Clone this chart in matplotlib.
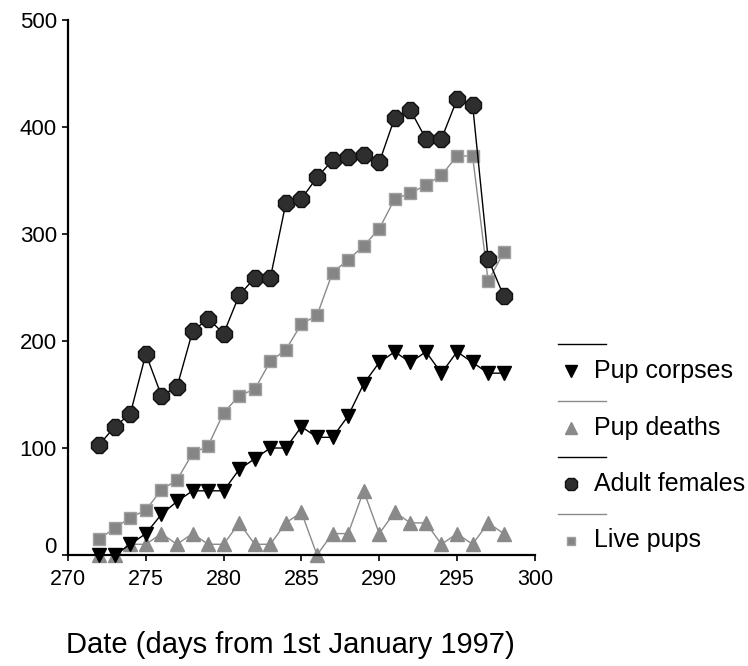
import numpy as np
import matplotlib.pyplot as plt
from matplotlib.lines import Line2D
from matplotlib.transforms import ScaledTranslation

plt.rcParams['font.family'] = ['Liberation Sans', 'DejaVu Sans']

days = list(range(272, 299))

adult_females = [103, 120, 132, 188, 149, 157, 209, 221, 207, 243, 259, 259, 329, 333,
                 353, 369, 372, 374, 367, 409, 416, 389, 389, 426, 421, 277, 242]
live_pups = [15, 25, 35, 42, 61, 70, 95, 102, 133, 149, 155, 181, 192, 216,
             224, 264, 276, 289, 305, 333, 338, 346, 355, 373, 373, 256, 283]
pup_corpses = [0, 0, 10, 20, 38, 50, 60, 60, 60, 80, 90, 100, 100, 120,
               110, 110, 130, 160, 180, 190, 180, 190, 170, 190, 180, 170, 170]
pup_deaths = [0, 0, 10, 10, 20, 10, 20, 10, 10, 30, 10, 10, 30, 40,
              0, 20, 20, 60, 20, 40, 30, 30, 10, 20, 10, 30, 20]

series_names = ['Pup corpses', 'Pup deaths', 'Adult females', 'Live pups']

GRAY = '#8a8a8a'
styles = {
    'Pup corpses': dict(color='black', marker='v', markersize=10, mfc='black', mec='black'),
    'Pup deaths': dict(color=GRAY, marker='^', markersize=10, mfc=GRAY, mec=GRAY),
    'Adult females': dict(color='black', marker='8', markersize=12, mfc='#2e2e2e', mec='#111111'),
    'Live pups': dict(color=GRAY, marker='s', markersize=8, mfc='#858585', mec='#a0a0a0'),
}
values = {
    'Pup corpses': pup_corpses,
    'Pup deaths': pup_deaths,
    'Adult females': adult_females,
    'Live pups': live_pups,
}

fig = plt.figure(figsize=(7.48, 6.66), dpi=100)
ax = fig.add_axes([0.091, 0.1667, 0.624, 0.803])

for name in ['Pup deaths', 'Pup corpses', 'Live pups', 'Adult females']:
    st = styles[name]
    ax.plot(days, values[name], linewidth=1.0, clip_on=False, **st)

ax.set_xlim(270, 300)
ax.set_ylim(0, 500)
ax.set_xticks(np.arange(270, 301, 5))
ax.set_yticks(np.arange(0, 501, 100))
for s in ['top', 'right']:
    ax.spines[s].set_visible(False)
for s in ['left', 'bottom']:
    ax.spines[s].set_linewidth(1.6)
ax.tick_params(axis='both', direction='out', length=4, width=1.2)
ax.tick_params(axis='y', labelsize=16, pad=4)
ax.tick_params(axis='x', labelsize=15.5, pad=6)

# the "0" label sits a little above the axis line
fig.canvas.draw()
zero_label = ax.get_yticklabels()[0]
zero_label.set_transform(zero_label.get_transform() + ScaledTranslation(0, 0.1, fig.dpi_scale_trans))

fig.text(66 / 748, 1 - 653 / 666, 'Date (days from 1st January 1997)', ha='left', va='baseline', fontsize=21)

# SPSS-style legend: a line above each marker
legend_top = 1 - 344 / 666
step = 56.5 / 666
for i, name in enumerate(series_names):
    st = styles[name]
    yl = legend_top - i * step
    ym = yl - 27 / 666
    fig.add_artist(Line2D([558 / 748, 606 / 748], [yl, yl], color=st['color'], linewidth=1.0,
                          transform=fig.transFigure))
    fig.add_artist(Line2D([571 / 748], [ym], marker=st['marker'], markersize=st['markersize'] * 0.8,
                          mfc=st['mfc'], mec=st['mec'], linestyle='none', transform=fig.transFigure))
    fig.text(594 / 748, ym, name, ha='left', va='center', fontsize=18)

fig.savefig('out.png', dpi=100)
